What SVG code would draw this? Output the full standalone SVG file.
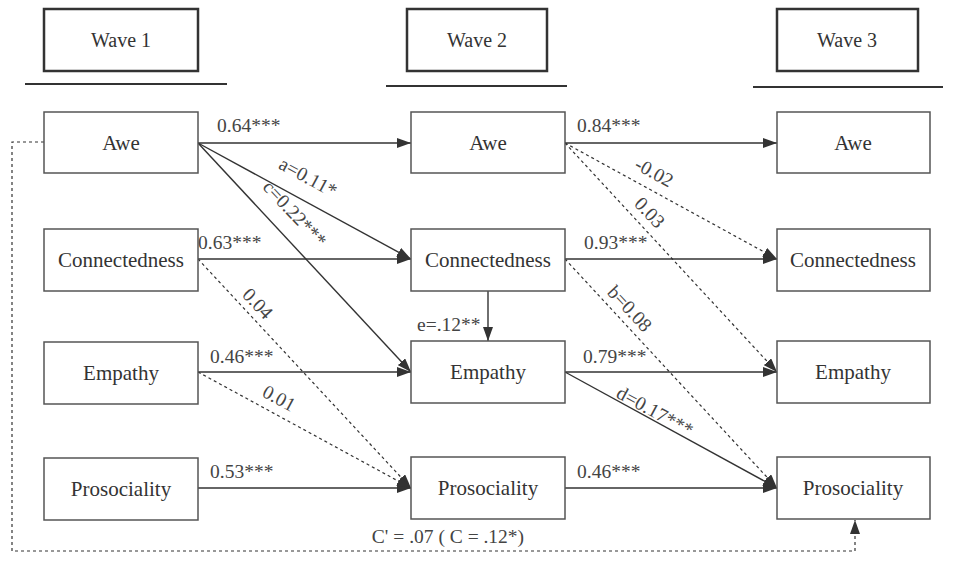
<svg xmlns="http://www.w3.org/2000/svg" width="962" height="566" viewBox="0 0 962 566">
<defs>
<marker id="ah" markerWidth="14" markerHeight="10" refX="14" refY="5" orient="auto" markerUnits="userSpaceOnUse">
<path d="M0,0 L14,5 L0,10 Z" fill="#333"/>
</marker>
</defs>
<style>
.hdr{fill:#fff;stroke:#333;stroke-width:2.5}
.rule{stroke:#333;stroke-width:2}
.box{fill:#fff;stroke:#555;stroke-width:1.5}
.t{font-family:"Liberation Serif","Times New Roman",serif;font-size:20px;fill:#333;text-anchor:middle}
.n{font-family:"Liberation Serif","Times New Roman",serif;font-size:21px;fill:#333;text-anchor:middle}
.l{font-family:"Liberation Serif","Times New Roman",serif;font-size:19.5px;fill:#444}
.lc{font-family:"Liberation Serif","Times New Roman",serif;font-size:19.5px;fill:#444;text-anchor:middle}
.s{stroke:#333;stroke-width:1.4;fill:none}
.d{stroke:#333;stroke-width:1.2;fill:none;stroke-dasharray:3,3}
</style>
<g id="headers">
<g id="wave1"><rect class="hdr" x="44" y="9" width="154" height="62"/><text class="t" x="121" y="47">Wave 1</text><line class="rule" x1="25" y1="84" x2="227" y2="84"/></g>
<g id="wave2"><rect class="hdr" x="407" y="9" width="140" height="62"/><text class="t" x="477" y="47">Wave 2</text><line class="rule" x1="386" y1="86" x2="567" y2="86"/></g>
<g id="wave3"><rect class="hdr" x="777" y="9" width="141" height="62"/><text class="t" x="847" y="47">Wave 3</text><line class="rule" x1="753" y1="87" x2="943" y2="87"/></g>
</g>
<g id="connectors">
<line class="s" x1="198" y1="143" x2="411" y2="143" marker-end="url(#ah)"/>
<line class="s" x1="198" y1="259" x2="411" y2="259" marker-end="url(#ah)"/>
<line class="s" x1="198" y1="372" x2="411" y2="372" marker-end="url(#ah)"/>
<line class="s" x1="198" y1="488" x2="411" y2="488" marker-end="url(#ah)"/>
<line class="s" x1="565" y1="143" x2="777" y2="143" marker-end="url(#ah)"/>
<line class="s" x1="565" y1="259" x2="777" y2="259" marker-end="url(#ah)"/>
<line class="s" x1="565" y1="372" x2="777" y2="372" marker-end="url(#ah)"/>
<line class="s" x1="565" y1="488" x2="777" y2="488" marker-end="url(#ah)"/>
<line class="s" x1="198" y1="143" x2="411" y2="259" marker-end="url(#ah)"/>
<line class="s" x1="198" y1="143" x2="411" y2="372" marker-end="url(#ah)"/>
<line class="d" x1="198" y1="259" x2="411" y2="488" marker-end="url(#ah)"/>
<line class="d" x1="198" y1="372" x2="411" y2="488" marker-end="url(#ah)"/>
<line class="s" x1="488" y1="291" x2="488" y2="341" marker-end="url(#ah)"/>
<line class="d" x1="565" y1="143" x2="777" y2="259" marker-end="url(#ah)"/>
<line class="d" x1="565" y1="143" x2="777" y2="372" marker-end="url(#ah)"/>
<line class="d" x1="565" y1="259" x2="777" y2="488" marker-end="url(#ah)"/>
<line class="s" x1="565" y1="372" x2="777" y2="488" marker-end="url(#ah)"/>
<polyline class="d" points="44,142 12,142 12,551 855,551 855,520" marker-end="url(#ah)"/>
<text class="l" x="217" y="132">0.64***</text>
<text class="l" x="577" y="132">0.84***</text>
<text class="l" x="198" y="249">0.63***</text>
<text class="l" x="584" y="249">0.93***</text>
<text class="l" x="210" y="363">0.46***</text>
<text class="l" x="583" y="363">0.79***</text>
<text class="l" x="210" y="478">0.53***</text>
<text class="l" x="577" y="478">0.46***</text>
<text class="l" x="417" y="331">e=.12**</text>
<text class="lc" transform="translate(305,183) rotate(28.6)">a=0.11*</text>
<text class="lc" transform="translate(290,218) rotate(47)">c=0.22***</text>
<text class="lc" transform="translate(253,308) rotate(47)">0.04</text>
<text class="lc" transform="translate(276,404) rotate(28.6)">0.01</text>
<text class="lc" transform="translate(651,178) rotate(28.7)">-0.02</text>
<text class="lc" transform="translate(645,217) rotate(47)">0.03</text>
<text class="lc" transform="translate(625,313) rotate(47)">b=0.08</text>
<text class="lc" transform="translate(652,417) rotate(28.7)">d=0.17***</text>
<text class="lc" x="448" y="543">C' = .07 ( C = .12*)</text>
</g>
<g id="w1-awe"><rect class="box" x="44" y="112" width="154" height="61"/><text class="n" x="121" y="150">Awe</text></g>
<g id="w1-con"><rect class="box" x="44" y="229" width="154" height="62"/><text class="n" x="121" y="267">Connectedness</text></g>
<g id="w1-emp"><rect class="box" x="44" y="342" width="154" height="62"/><text class="n" x="121" y="380">Empathy</text></g>
<g id="w1-pro"><rect class="box" x="44" y="458" width="154" height="62"/><text class="n" x="121" y="496">Prosociality</text></g>
<g id="w2-awe"><rect class="box" x="411" y="112" width="154" height="61"/><text class="n" x="488" y="150">Awe</text></g>
<g id="w2-con"><rect class="box" x="411" y="229" width="154" height="62"/><text class="n" x="488" y="267">Connectedness</text></g>
<g id="w2-emp"><rect class="box" x="411" y="341" width="154" height="62"/><text class="n" x="488" y="379">Empathy</text></g>
<g id="w2-pro"><rect class="box" x="411" y="457" width="154" height="62"/><text class="n" x="488" y="495">Prosociality</text></g>
<g id="w3-awe"><rect class="box" x="777" y="112" width="153" height="61"/><text class="n" x="853" y="150">Awe</text></g>
<g id="w3-con"><rect class="box" x="777" y="229" width="153" height="62"/><text class="n" x="853" y="267">Connectedness</text></g>
<g id="w3-emp"><rect class="box" x="777" y="341" width="153" height="62"/><text class="n" x="853" y="379">Empathy</text></g>
<g id="w3-pro"><rect class="box" x="777" y="457" width="153" height="62"/><text class="n" x="853" y="495">Prosociality</text></g>
</svg>
